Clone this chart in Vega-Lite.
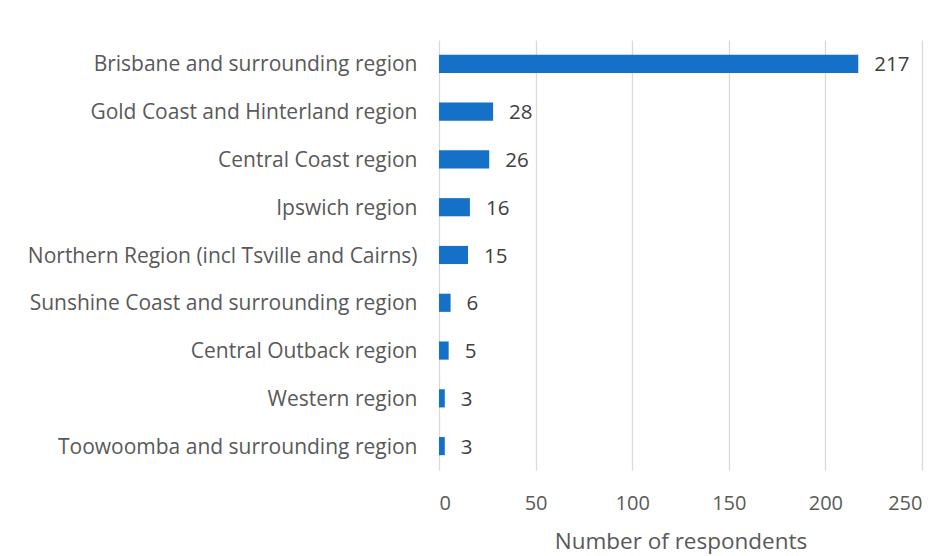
{
  "$schema": "https://vega.github.io/schema/vega-lite/v6.json",
  "width": 483,
  "height": 430,
  "autosize": {"type": "none"},
  "padding": {"left": 439, "top": 40, "right": 21, "bottom": 86},
  "background": "white",
  "config": {
    "view": {"stroke": null},
    "font": "Open Sans",
    "axis": {"labelFont": "Open Sans", "titleFont": "Open Sans", "labelColor": "#595959", "titleColor": "#595959"}
  },
  "data": {
    "values": [
      {"region": "Brisbane and surrounding region", "count": 217},
      {"region": "Gold Coast and Hinterland region", "count": 28},
      {"region": "Central Coast region ", "count": 26},
      {"region": "Ipswich region", "count": 16},
      {"region": "Northern Region (incl Tsville and Cairns)", "count": 15},
      {"region": "Sunshine Coast and surrounding region", "count": 6},
      {"region": "Central Outback region", "count": 5},
      {"region": "Western region", "count": 3},
      {"region": "Toowoomba and surrounding region", "count": 3}
    ]
  },
  "encoding": {
    "y": {
      "field": "region", "type": "nominal", "sort": null,
      "scale": {"paddingInner": 0.62, "paddingOuter": 0.31},
      "axis": {"title": null, "ticks": false, "domain": false, "labelFontSize": 21, "labelPadding": 22, "labelLimit": 500, "labelOffset": 1.5}
    },
    "x": {
      "field": "count", "type": "quantitative",
      "scale": {"domain": [0, 250]},
      "axis": {
        "title": "Number of respondents", "titleFontSize": 22.5, "titleFontWeight": "normal", "titlePadding": 17,
        "values": [0, 50, 100, 150, 200, 250], "ticks": false, "domain": false,
        "labelFontSize": 20, "labelPadding": 23,
        "grid": true, "gridColor": "#d9d9d9", "gridWidth": 1.3
      }
    }
  },
  "layer": [
    {"mark": {"type": "bar", "color": "#1570c8"}},
    {"mark": {"type": "text", "align": "left", "baseline": "middle", "dx": 16, "dy": 1.5, "fontSize": 20.5, "color": "#404040", "font": "Open Sans"},
     "encoding": {"text": {"field": "count", "type": "quantitative"}}}
  ]
}
